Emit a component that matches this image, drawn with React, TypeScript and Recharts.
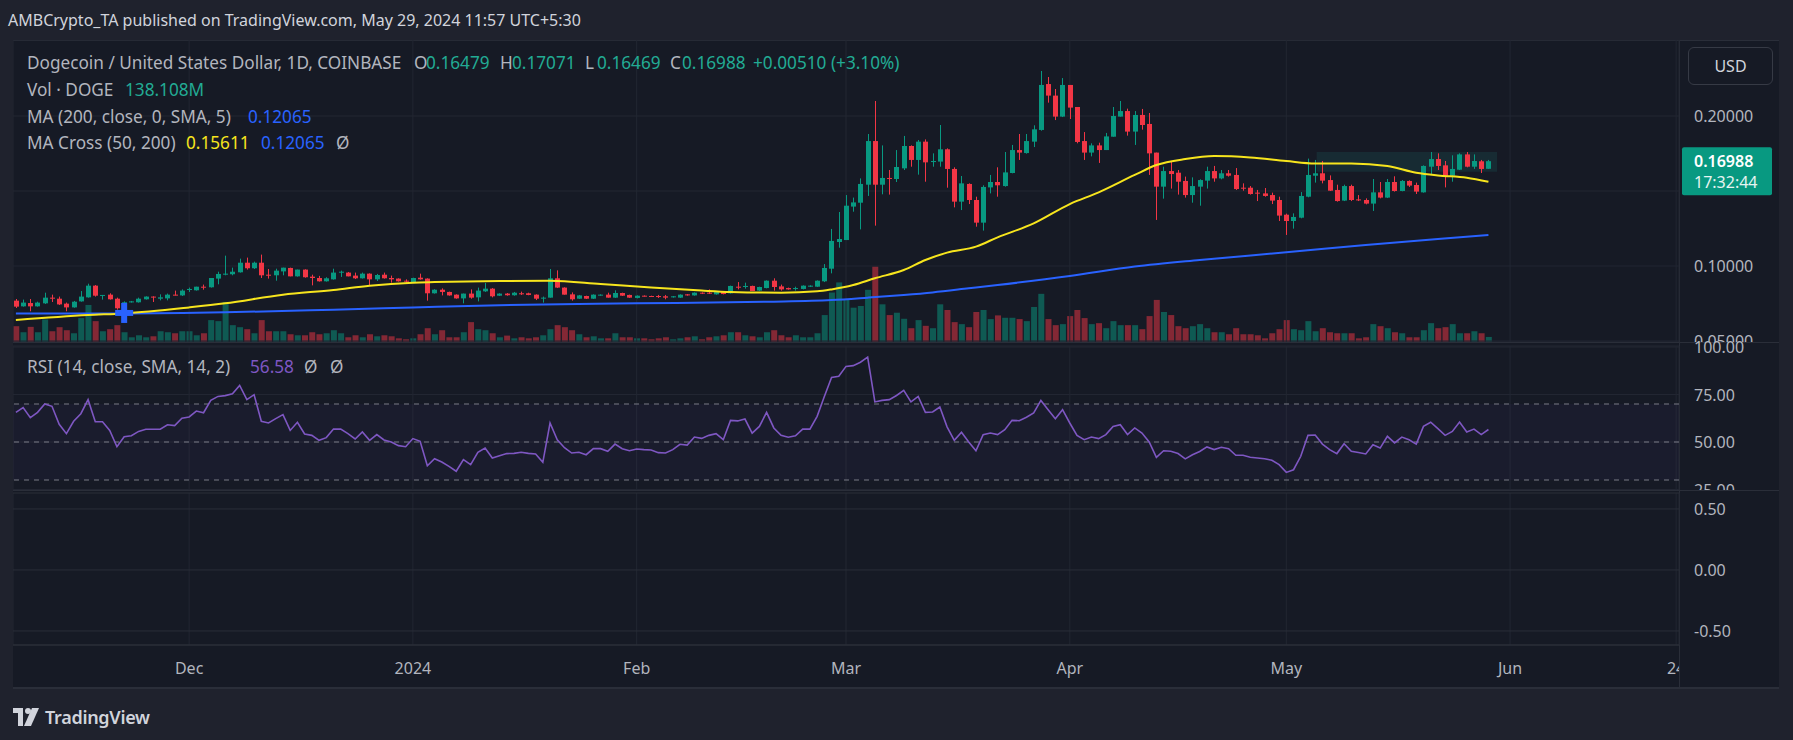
import React from 'react';
import { ComposedChart, Bar, Line, XAxis, YAxis, CartesianGrid, ReferenceLine, ReferenceArea, Scatter, Cell } from 'recharts';

// Daily DOGE/USD candles, index 0 = 7 Nov 2023 ... 204 = 29 May 2024
const openP = [
  0.0769, 0.0731, 0.0753, 0.0731, 0.0751, 0.0789, 0.0782, 0.0749, 0.0724, 0.0764,
  0.0791, 0.0869, 0.0804, 0.0809, 0.0782, 0.0720, 0.0760, 0.0758, 0.0778, 0.0796,
  0.0782, 0.0784, 0.0809, 0.0804, 0.0840, 0.0838, 0.0862, 0.0858, 0.0916, 0.0942,
  0.0945, 0.0958, 0.1022, 0.0985, 0.1022, 0.0942, 0.0938, 0.0964, 0.0987, 0.0931,
  0.0976, 0.0929, 0.0920, 0.0898, 0.0911, 0.0958, 0.0956, 0.0936, 0.0918, 0.0949,
  0.0911, 0.0942, 0.0920, 0.0916, 0.0902, 0.0889, 0.0922, 0.0916, 0.0818, 0.0842,
  0.0827, 0.0809, 0.0784, 0.0816, 0.0791, 0.0831, 0.0849, 0.0802, 0.0816, 0.0805,
  0.0818, 0.0818, 0.0809, 0.0784, 0.0789, 0.0918, 0.0856, 0.0811, 0.0782, 0.0800,
  0.0782, 0.0804, 0.0809, 0.0789, 0.0820, 0.0807, 0.0787, 0.0802, 0.0800, 0.0800,
  0.0798, 0.0791, 0.0789, 0.0811, 0.0804, 0.0822, 0.0822, 0.0811, 0.0831, 0.0818,
  0.0862, 0.0860, 0.0867, 0.0836, 0.0853, 0.0902, 0.0864, 0.0853, 0.0847, 0.0847,
  0.0862, 0.0862, 0.0898, 0.0982, 0.1160, 0.1173, 0.1396, 0.1422, 0.1542, 0.1833,
  0.1542, 0.1587, 0.1580, 0.1651, 0.1800, 0.1707, 0.1829, 0.1693, 0.1696, 0.1778,
  0.1647, 0.1429, 0.1547, 0.1440, 0.1289, 0.1524, 0.1560, 0.1533, 0.1620, 0.1773,
  0.1753, 0.1829, 0.1907, 0.2213, 0.2136, 0.1996, 0.2207, 0.2060, 0.1833, 0.1756,
  0.1804, 0.1773, 0.1862, 0.1996, 0.2033, 0.1896, 0.2007, 0.1947, 0.1756, 0.1529,
  0.1633, 0.1622, 0.1567, 0.1473, 0.1529, 0.1569, 0.1633, 0.1584, 0.1618, 0.1607,
  0.1522, 0.1522, 0.1489, 0.1484, 0.1473, 0.1440, 0.1342, 0.1300, 0.1322, 0.1462,
  0.1602, 0.1618, 0.1573, 0.1507, 0.1436, 0.1533, 0.1444, 0.1440, 0.1416, 0.1491,
  0.1456, 0.1560, 0.1500, 0.1567, 0.1540, 0.1491, 0.1662, 0.1713, 0.1671, 0.1602,
  0.1642, 0.1744, 0.1662, 0.1698, 0.16479,
];
const highP = [
  0.0780, 0.0776, 0.0780, 0.0762, 0.0822, 0.0809, 0.0796, 0.0756, 0.0767, 0.0833,
  0.0882, 0.0873, 0.0807, 0.0818, 0.0789, 0.0764, 0.0767, 0.0789, 0.0798, 0.0798,
  0.0811, 0.0816, 0.0836, 0.0844, 0.0856, 0.0862, 0.0876, 0.0920, 0.0962, 0.1069,
  0.0989, 0.1049, 0.1056, 0.1029, 0.1076, 0.0980, 0.0982, 0.0989, 0.0989, 0.0976,
  0.0978, 0.0942, 0.0934, 0.0925, 0.0982, 0.0969, 0.0960, 0.0956, 0.0956, 0.0951,
  0.0947, 0.0956, 0.0936, 0.0918, 0.0911, 0.0922, 0.0949, 0.0918, 0.0845, 0.0851,
  0.0829, 0.0811, 0.0816, 0.0844, 0.0856, 0.0887, 0.0853, 0.0818, 0.0820, 0.0827,
  0.0829, 0.0822, 0.0811, 0.0796, 0.0980, 0.0971, 0.0858, 0.0824, 0.0807, 0.0802,
  0.0811, 0.0811, 0.0822, 0.0838, 0.0822, 0.0809, 0.0804, 0.0804, 0.0802, 0.0807,
  0.0807, 0.0800, 0.0811, 0.0813, 0.0824, 0.0824, 0.0844, 0.0833, 0.0833, 0.0869,
  0.0893, 0.0889, 0.0869, 0.0862, 0.0904, 0.0918, 0.0876, 0.0856, 0.0862, 0.0871,
  0.0871, 0.0904, 0.1013, 0.1247, 0.1360, 0.1473, 0.1456, 0.1584, 0.1880, 0.2100,
  0.1804, 0.1640, 0.1773, 0.1867, 0.1804, 0.1840, 0.1844, 0.1751, 0.1940, 0.1784,
  0.1658, 0.1600, 0.1551, 0.1462, 0.1538, 0.1607, 0.1658, 0.1760, 0.1807, 0.1880,
  0.1880, 0.1938, 0.2300, 0.2260, 0.2180, 0.2253, 0.2207, 0.2060, 0.1893, 0.1818,
  0.1822, 0.1887, 0.2060, 0.2100, 0.2049, 0.2033, 0.2047, 0.2020, 0.1756, 0.1662,
  0.1696, 0.1640, 0.1596, 0.1591, 0.1578, 0.1662, 0.1667, 0.1640, 0.1640, 0.1653,
  0.1551, 0.1533, 0.1507, 0.1520, 0.1489, 0.1462, 0.1349, 0.1351, 0.1493, 0.1716,
  0.1707, 0.1700, 0.1604, 0.1542, 0.1542, 0.1542, 0.1473, 0.1451, 0.1580, 0.1560,
  0.1580, 0.1598, 0.1573, 0.1571, 0.1556, 0.1671, 0.1760, 0.1751, 0.1700, 0.1738,
  0.1751, 0.1760, 0.1744, 0.1707, 0.17071,
];
const lowP = [
  0.0720, 0.0729, 0.0698, 0.0729, 0.0747, 0.0760, 0.0740, 0.0698, 0.0722, 0.0762,
  0.0789, 0.0796, 0.0776, 0.0776, 0.0709, 0.0709, 0.0756, 0.0756, 0.0776, 0.0760,
  0.0771, 0.0771, 0.0804, 0.0800, 0.0827, 0.0836, 0.0842, 0.0856, 0.0878, 0.0938,
  0.0938, 0.0956, 0.0976, 0.0980, 0.0920, 0.0916, 0.0902, 0.0938, 0.0931, 0.0929,
  0.0922, 0.0871, 0.0896, 0.0896, 0.0909, 0.0927, 0.0931, 0.0913, 0.0916, 0.0873,
  0.0900, 0.0916, 0.0889, 0.0896, 0.0889, 0.0887, 0.0909, 0.0769, 0.0816, 0.0804,
  0.0802, 0.0782, 0.0751, 0.0782, 0.0764, 0.0827, 0.0791, 0.0800, 0.0802, 0.0802,
  0.0807, 0.0805, 0.0773, 0.0756, 0.0789, 0.0853, 0.0809, 0.0769, 0.0780, 0.0780,
  0.0780, 0.0802, 0.0789, 0.0787, 0.0800, 0.0787, 0.0784, 0.0796, 0.0796, 0.0787,
  0.0778, 0.0789, 0.0787, 0.0802, 0.0802, 0.0813, 0.0813, 0.0809, 0.0811, 0.0816,
  0.0844, 0.0849, 0.0833, 0.0833, 0.0851, 0.0836, 0.0836, 0.0842, 0.0836, 0.0844,
  0.0860, 0.0860, 0.0893, 0.0951, 0.1122, 0.1173, 0.1362, 0.1244, 0.1467, 0.1269,
  0.1478, 0.1476, 0.1560, 0.1640, 0.1662, 0.1609, 0.1562, 0.1662, 0.1662, 0.1522,
  0.1391, 0.1373, 0.1413, 0.1262, 0.1236, 0.1484, 0.1462, 0.1529, 0.1618, 0.1707,
  0.1749, 0.1793, 0.1902, 0.2089, 0.1973, 0.1993, 0.1980, 0.1818, 0.1707, 0.1731,
  0.1687, 0.1773, 0.1862, 0.1996, 0.1869, 0.1807, 0.1909, 0.1607, 0.1307, 0.1449,
  0.1516, 0.1476, 0.1456, 0.1422, 0.1402, 0.1516, 0.1562, 0.1578, 0.1596, 0.1507,
  0.1502, 0.1476, 0.1433, 0.1462, 0.1413, 0.1300, 0.1207, 0.1249, 0.1318, 0.1458,
  0.1556, 0.1551, 0.1500, 0.1429, 0.1433, 0.1433, 0.1433, 0.1411, 0.1367, 0.1451,
  0.1453, 0.1496, 0.1498, 0.1527, 0.1480, 0.1489, 0.1609, 0.1640, 0.1524, 0.1562,
  0.1640, 0.1658, 0.1647, 0.1620, 0.16469,
];
const closeP = [
  0.0729, 0.0756, 0.0731, 0.0756, 0.0789, 0.0782, 0.0744, 0.0724, 0.0762, 0.0796,
  0.0869, 0.0802, 0.0807, 0.0778, 0.0718, 0.0758, 0.0764, 0.0782, 0.0796, 0.0791,
  0.0791, 0.0809, 0.0804, 0.0836, 0.0847, 0.0862, 0.0856, 0.0920, 0.0947, 0.0949,
  0.0962, 0.1022, 0.0985, 0.1022, 0.0938, 0.0938, 0.0969, 0.0989, 0.0931, 0.0976,
  0.0925, 0.0920, 0.0898, 0.0918, 0.0956, 0.0962, 0.0931, 0.0918, 0.0949, 0.0911,
  0.0940, 0.0918, 0.0911, 0.0898, 0.0898, 0.0920, 0.0911, 0.0818, 0.0842, 0.0827,
  0.0804, 0.0784, 0.0816, 0.0789, 0.0836, 0.0849, 0.0798, 0.0816, 0.0805, 0.0822,
  0.0815, 0.0807, 0.0782, 0.0789, 0.0918, 0.0856, 0.0809, 0.0778, 0.0804, 0.0782,
  0.0809, 0.0809, 0.0789, 0.0820, 0.0802, 0.0789, 0.0802, 0.0798, 0.0798, 0.0793,
  0.0789, 0.0798, 0.0809, 0.0804, 0.0822, 0.0816, 0.0818, 0.0831, 0.0813, 0.0867,
  0.0856, 0.0867, 0.0833, 0.0860, 0.0902, 0.0860, 0.0844, 0.0844, 0.0853, 0.0869,
  0.0869, 0.0902, 0.0987, 0.1167, 0.1180, 0.1402, 0.1424, 0.1547, 0.1833, 0.1542,
  0.1587, 0.1582, 0.1660, 0.1800, 0.1707, 0.1829, 0.1691, 0.1700, 0.1778, 0.1647,
  0.1429, 0.1551, 0.1440, 0.1289, 0.1527, 0.1560, 0.1538, 0.1624, 0.1773, 0.1756,
  0.1833, 0.1911, 0.2207, 0.2136, 0.1996, 0.2207, 0.2056, 0.1827, 0.1756, 0.1804,
  0.1773, 0.1864, 0.2000, 0.2033, 0.1896, 0.2007, 0.1940, 0.1751, 0.1529, 0.1633,
  0.1613, 0.1562, 0.1473, 0.1533, 0.1573, 0.1633, 0.1584, 0.1618, 0.1602, 0.1513,
  0.1516, 0.1480, 0.1484, 0.1467, 0.1436, 0.1336, 0.1300, 0.1327, 0.1467, 0.1607,
  0.1618, 0.1569, 0.1502, 0.1433, 0.1533, 0.1440, 0.1438, 0.1416, 0.1491, 0.1456,
  0.1560, 0.1500, 0.1567, 0.1536, 0.1496, 0.1667, 0.1713, 0.1667, 0.1596, 0.1647,
  0.1744, 0.1662, 0.1700, 0.1647, 0.16988,
];
// volume, millions of DOGE
const volumeM = [
  432, 267, 414, 267, 616, 294, 405, 322, 239, 653,
  1012, 570, 294, 350, 460, 267, 129, 184, 129, 156,
  294, 267, 239, 294, 294, 184, 239, 598, 570, 1095,
  460, 405, 350, 239, 598, 294, 294, 294, 212, 184,
  184, 267, 212, 239, 322, 239, 129, 184, 129, 212,
  156, 184, 156, 101, 74, 101, 212, 377, 212, 322,
  129, 129, 267, 543, 350, 322, 239, 129, 175, 101,
  129, 101, 129, 184, 350, 460, 405, 322, 212, 129,
  156, 101, 101, 239, 129, 129, 101, 101, 74, 101,
  129, 74, 101, 129, 156, 74, 129, 156, 184, 267,
  267, 184, 156, 129, 267, 322, 184, 129, 184, 129,
  129, 239, 736, 1352, 1628, 1150, 938, 984, 1426, 2061,
  1030, 736, 800, 635, 377, 598, 442, 377, 1030, 874,
  543, 488, 405, 819, 874, 626, 727, 662, 662, 626,
  570, 957, 1316, 626, 460, 488, 708, 874, 653, 488,
  515, 377, 570, 460, 460, 460, 350, 708, 1150, 819,
  736, 432, 377, 432, 488, 377, 267, 267, 212, 377,
  212, 212, 184, 101, 239, 350, 598, 350, 322, 570,
  294, 377, 267, 239, 239, 239, 101, 129, 488, 432,
  377, 267, 239, 129, 129, 322, 515, 377, 405, 488,
  239, 239, 294, 239, 138.108,
];
const rsiV = [
  65.6, 68.1, 62.8, 65.6, 70.0, 68.8, 59.3, 54.4, 60.9, 64.9,
  72.3, 60.7, 60.7, 56.1, 47.5, 52.8, 53.3, 55.6, 56.7, 56.7,
  56.7, 59.1, 58.6, 62.5, 63.2, 66.3, 65.4, 71.9, 74.0, 74.4,
  75.4, 79.8, 72.3, 74.9, 60.9, 60.0, 62.3, 64.4, 56.1, 60.4,
  54.2, 53.5, 50.9, 52.3, 56.8, 56.8, 54.4, 51.6, 55.3, 50.9,
  53.9, 51.1, 50.0, 48.1, 47.5, 51.8, 50.4, 37.5, 41.2, 39.5,
  37.2, 34.6, 40.7, 38.1, 44.6, 46.8, 41.6, 42.8, 43.9, 44.0,
  44.6, 44.0, 43.7, 39.3, 60.0, 51.2, 47.0, 44.2, 44.6, 43.3,
  46.5, 46.5, 45.1, 48.9, 46.5, 45.4, 46.3, 46.0, 45.8, 44.4,
  44.2, 46.0, 48.8, 48.4, 52.6, 51.9, 53.5, 54.4, 51.2, 61.4,
  61.1, 62.1, 54.7, 58.2, 65.6, 57.4, 53.5, 52.5, 53.3, 56.8,
  56.8, 63.5, 74.0, 84.0, 84.6, 89.8, 90.2, 92.0, 94.7, 71.1,
  71.9, 72.3, 74.5, 77.2, 71.1, 74.0, 65.6, 65.8, 68.4, 58.0,
  50.9, 55.1, 50.0, 45.4, 53.9, 54.7, 53.9, 56.5, 61.4, 61.2,
  63.0, 65.3, 71.9, 67.0, 62.3, 67.0, 60.0, 53.5, 51.2, 52.6,
  51.8, 53.9, 58.2, 59.1, 53.9, 57.4, 54.7, 50.0, 41.9, 45.4,
  45.1, 43.9, 41.1, 43.3, 45.0, 47.4, 46.0, 47.2, 46.5, 43.0,
  43.0, 42.0, 41.6, 41.2, 40.4, 38.1, 34.0, 35.4, 42.5, 53.5,
  53.7, 48.9, 46.0, 43.9, 49.1, 45.1, 44.5, 43.7, 48.6, 46.8,
  53.0, 49.5, 52.6, 51.2, 48.9, 58.2, 60.4, 57.0, 53.5, 55.6,
  60.5, 55.3, 56.8, 53.9, 56.58,
];
// moving averages read at sample days
const ma50Idx = [0, 10, 15, 24, 29, 37, 44, 49, 55, 58, 67, 74, 81, 88, 95, 99, 106, 111, 113, 116, 119, 123, 126, 129, 133, 136, 141, 146, 150, 155, 158, 162, 166, 171, 176, 180, 185, 190, 194, 197, 201, 204];
const ma50Val = [0.0640, 0.0673, 0.0684, 0.0724, 0.0751, 0.0809, 0.0840, 0.0869, 0.0889, 0.0893, 0.0900, 0.0902, 0.0880, 0.0856, 0.0836, 0.0827, 0.0822, 0.0831, 0.0844, 0.0873, 0.0918, 0.0973, 0.1040, 0.1089, 0.1129, 0.1191, 0.1284, 0.1413, 0.1491, 0.1607, 0.1673, 0.1713, 0.1733, 0.1724, 0.1700, 0.1684, 0.1684, 0.1667, 0.1622, 0.1604, 0.1589, 0.15611];
const ma200Idx = [0, 15, 29, 44, 55, 67, 86, 104, 113, 118, 123, 127, 132, 136, 146, 155, 164, 176, 187, 197, 204];
const ma200Val = [0.0684, 0.0684, 0.0691, 0.0709, 0.0724, 0.0739, 0.0751, 0.0762, 0.0773, 0.0789, 0.0807, 0.0824, 0.0851, 0.0873, 0.0933, 0.0996, 0.1040, 0.1091, 0.1140, 0.1180, 0.12065];
const crossIdx = 15;
const crossPrice = 0.0687;
const boxStart = 180.2;
const boxEnd = 205.2;
const boxLow = 0.1629;
const boxHigh = 0.1760;

const timeTicks = [24, 55, 86, 115, 146, 176, 207, 230];
const timeLabels = ['Dec', '2024', 'Feb', 'Mar', 'Apr', 'May', 'Jun', '24'];
const priceTicks = [0.05, 0.1, 0.15, 0.2];
const rsiTicks = [25, 50, 75, 100];
const paneTicks = [0.5, 0, -0.5];

const rows = openP.map((o, i) => {
  const a = ma50Idx.indexOf(i);
  const b = ma200Idx.indexOf(i);
  return {
    i,
    o,
    h: highP[i],
    l: lowP[i],
    c: closeP[i],
    range: [lowP[i], highP[i]],
    vol: volumeM[i],
    rsi: rsiV[i],
    ma50: a >= 0 ? ma50Val[a] : null,
    ma200: b >= 0 ? ma200Val[b] : null,
  };
});
const last = rows[rows.length - 1];

const FONT = '"Noto Sans", "DejaVu Sans", sans-serif';
const OUTER_BG = '#1f222d';
const BG = '#161a25';
const GRID = '#222632';
const LINE = '#2a2e39';
const TEXT = '#b2b5be';
const UP = '#089981';
const DOWN = '#f23645';
const W = 1766;
const AXIS_W = 100;
const PLOT_W = W - AXIS_W;
const X_DOMAIN: [number, number] = [-0.4, 230.4];

const Candle = (p: any) => {
  const { x, y, width, height, payload } = p;
  if (!payload || height == null) return null;
  const top = Math.min(y, y + height);
  const hh = Math.abs(height);
  const span = payload.h - payload.l || 1e-9;
  const k = hh / span;
  const up = payload.c >= payload.o;
  const col = up ? UP : DOWN;
  const bTop = top + (payload.h - Math.max(payload.o, payload.c)) * k;
  const bBot = top + (payload.h - Math.min(payload.o, payload.c)) * k;
  const cx = Math.round(x + width / 2) + 0.5;
  return (
    <g>
      <line x1={cx} x2={cx} y1={top} y2={top + hh} stroke={col} strokeWidth={1} />
      <rect x={cx - 2.5} y={bTop} width={5} height={Math.max(1, bBot - bTop)} fill={col} />
    </g>
  );
};

const Plus = (p: any) => {
  const { cx, cy } = p;
  return (
    <g fill="#2962ff">
      <rect x={cx - 9} y={cy - 3} width={18} height={6} />
      <rect x={cx - 3} y={cy - 10} width={6} height={20} />
    </g>
  );
};

const RightTick = (p: any) => {
  const { y, payload, digits, skip } = p;
  if (skip && skip.includes(payload.value)) return null;
  return (
    <text x={PLOT_W + 15} y={y} fill={TEXT} fontSize={16} fontFamily={FONT} dominantBaseline="central">
      {Number(payload.value).toFixed(digits)}
    </text>
  );
};

const TimeTick = (p: any) => {
  const { x, payload } = p;
  const label = timeLabels[timeTicks.indexOf(payload.value)];
  return (
    <g>
      <defs>
        <clipPath id={'tc' + payload.value}>
          <rect x={0} y={0} width={PLOT_W} height={200} />
        </clipPath>
      </defs>
      <text x={x} y={178} fill={TEXT} fontSize={16} fontFamily={FONT} textAnchor="middle" dominantBaseline="central" clipPath={`url(#tc${payload.value})`}>
        {label}
      </text>
    </g>
  );
};

const PriceTag = (p: any) => {
  const vb = p.viewBox || {};
  const x = vb.x + vb.width + 3;
  const y = vb.y;
  return (
    <g fontFamily={FONT}>
      <rect x={x} y={y - 14} width={90} height={48} rx={2} fill={UP} />
      <text x={x + 12} y={y} fill="#ffffff" fontSize={16} fontWeight={600} dominantBaseline="central">
        {last.c.toFixed(5)}
      </text>
      <text x={x + 12} y={y + 21} fill="#e6f4f1" fontSize={16} dominantBaseline="central">
        17:32:44
      </text>
    </g>
  );
};

const Txt = ({ x, y, color, children, size = 17.2 }: any) => (
  <div style={{ position: 'absolute', left: x, top: y - 12, height: 24, lineHeight: '24px', fontSize: size, color, whiteSpace: 'nowrap' }}>{children}</div>
);

export default function App() {
  return (
    <div style={{ position: 'fixed', left: 0, top: 0, width: 1793, height: 740, background: OUTER_BG, overflow: 'hidden', fontFamily: FONT }}>
      <Txt x={8} y={20} color="#d1d4dc" size={16}>AMBCrypto_TA published on TradingView.com, May 29, 2024 11:57 UTC+5:30</Txt>

      <div style={{ position: 'absolute', left: 13, top: 40, width: W, height: 647, background: BG, borderTop: `1px solid ${LINE}` }} />

      {/* pane separators */}
      <div style={{ position: 'absolute', left: 13, top: 342, width: W, height: 1, background: LINE }} />
      <div style={{ position: 'absolute', left: 13, top: 490, width: W, height: 1, background: LINE }} />
      <div style={{ position: 'absolute', left: 13 + PLOT_W, top: 40, width: 1, height: 647, background: LINE }} />
      <div style={{ position: 'absolute', left: 13, top: 687, width: W, height: 2, background: LINE }} />

      {/* volume layer */}
      <div style={{ position: 'absolute', left: 13, top: 40 }}>
        <ComposedChart width={W} height={302} data={rows} margin={{ top: 0, right: AXIS_W, bottom: 0, left: 0 }}>
          <XAxis dataKey="i" type="number" domain={X_DOMAIN} hide allowDataOverflow />
          <YAxis yAxisId="v" hide domain={[0, 8250]} />
          <Bar yAxisId="v" dataKey="vol" barSize={6} isAnimationActive={false}>
            {rows.map((r) => (
              <Cell key={r.i} fill={r.c >= r.o ? 'rgba(8,153,129,0.5)' : 'rgba(242,54,69,0.5)'} />
            ))}
          </Bar>
        </ComposedChart>
      </div>

      {/* price pane */}
      <div style={{ position: 'absolute', left: 13, top: 40 }}>
        <ComposedChart width={W} height={302} data={rows} margin={{ top: 0, right: 0, bottom: 0, left: 0 }}>
          <CartesianGrid stroke={GRID} />
          <XAxis dataKey="i" type="number" domain={X_DOMAIN} ticks={timeTicks} hide allowDataOverflow />
          <YAxis orientation="right" width={AXIS_W} domain={[0.04933, 0.25067]} ticks={priceTicks} interval={0} axisLine={false} tickLine={false} tick={<RightTick digits={5} skip={[0.15]} />} allowDataOverflow />
          <ReferenceArea x1={boxStart} x2={boxEnd} y1={boxLow} y2={boxHigh} fill="rgba(34,171,148,0.25)" stroke="none" ifOverflow="visible" />
          <Line dataKey="ma200" stroke="#2962ff" strokeWidth={2} dot={false} connectNulls type="monotone" isAnimationActive={false} />
          <Line dataKey="ma50" stroke="#f7e51d" strokeWidth={2} dot={false} connectNulls type="monotone" isAnimationActive={false} />
          <Bar dataKey="range" barSize={5} shape={(p: any) => <Candle {...p} />} isAnimationActive={false} />
          <Scatter data={[{ i: crossIdx, p: crossPrice }]} dataKey="p" shape={(p: any) => <Plus {...p} />} isAnimationActive={false} />
          <ReferenceLine y={last.c} stroke="none" label={<PriceTag />} />
        </ComposedChart>
      </div>

      {/* RSI pane */}
      <div style={{ position: 'absolute', left: 13, top: 336 }}>
        <ComposedChart width={W} height={154} data={rows} margin={{ top: 10, right: 0, bottom: 0, left: 0 }}>
          <CartesianGrid stroke={GRID} />
          <XAxis dataKey="i" type="number" domain={X_DOMAIN} ticks={timeTicks} hide allowDataOverflow />
          <YAxis orientation="right" width={AXIS_W} domain={[24.74, 100.53]} ticks={rsiTicks} interval={0} axisLine={false} tickLine={false} tick={<RightTick digits={2} />} allowDataOverflow />
          <ReferenceArea y1={30} y2={70} fill="rgba(126,87,194,0.1)" stroke="none" />
          <ReferenceLine y={70} stroke="#787b86" strokeDasharray="5 5" />
          <ReferenceLine y={50} stroke="#787b86" strokeDasharray="5 5" />
          <ReferenceLine y={30} stroke="#787b86" strokeDasharray="5 5" />
          <Line dataKey="rsi" stroke="#7e57c2" strokeWidth={1.6} dot={false} type="linear" isAnimationActive={false} />
        </ComposedChart>
      </div>

      {/* empty indicator pane + time axis */}
      <div style={{ position: 'absolute', left: 13, top: 490 }}>
        <ComposedChart width={W} height={197} data={rows} margin={{ top: 3, right: 0, bottom: 0, left: 0 }}>
          <CartesianGrid stroke={GRID} horizontal={false} />
          <CartesianGrid stroke={LINE} vertical={false} />
          <XAxis dataKey="i" type="number" domain={X_DOMAIN} ticks={timeTicks} interval={0} height={42} axisLine={{ stroke: LINE }} tickLine={false} tick={<TimeTick />} allowDataOverflow />
          <YAxis orientation="right" width={AXIS_W} domain={[-0.615, 0.631]} ticks={paneTicks} interval={0} axisLine={false} tickLine={false} tick={<RightTick digits={2} />} allowDataOverflow />
          <Line dataKey="blank" stroke="none" dot={false} isAnimationActive={false} />
        </ComposedChart>
      </div>

      {/* currency button */}
      <div style={{ position: 'absolute', left: 1688, top: 47, width: 83, height: 36, border: '1px solid #363a45', borderRadius: 6, color: '#d1d4dc', fontSize: 16, lineHeight: '36px', textAlign: 'center' }}>USD</div>

      {/* legends */}
      <Txt x={27} y={63} color={TEXT}>Dogecoin / United States Dollar, 1D, COINBASE</Txt>
      <Txt x={414} y={63} color={TEXT}>O</Txt>
      <Txt x={426} y={63} color="#22ab94">{last.o.toFixed(5)}</Txt>
      <Txt x={500} y={63} color={TEXT}>H</Txt>
      <Txt x={512} y={63} color="#22ab94">{last.h.toFixed(5)}</Txt>
      <Txt x={585} y={63} color={TEXT}>L</Txt>
      <Txt x={597} y={63} color="#22ab94">{last.l.toFixed(5)}</Txt>
      <Txt x={670} y={63} color={TEXT}>C</Txt>
      <Txt x={682} y={63} color="#22ab94">{last.c.toFixed(5)}</Txt>
      <Txt x={753} y={63} color="#22ab94">+0.00510 (+3.10%)</Txt>

      <Txt x={27} y={90} color={TEXT}>Vol · DOGE</Txt>
      <Txt x={125} y={90} color="#22ab94">138.108M</Txt>

      <Txt x={27} y={117} color={TEXT}>MA (200, close, 0, SMA, 5)</Txt>
      <Txt x={248} y={117} color="#2962ff">0.12065</Txt>

      <Txt x={27} y={143} color={TEXT}>MA Cross (50, 200)</Txt>
      <Txt x={186} y={143} color="#f7e51d">0.15611</Txt>
      <Txt x={261} y={143} color="#2962ff">0.12065</Txt>
      <Txt x={336} y={143} color={TEXT}>Ø</Txt>

      <Txt x={27} y={367} color={TEXT}>RSI (14, close, SMA, 14, 2)</Txt>
      <Txt x={250} y={367} color="#7e57c2">{last.rsi.toFixed(2)}</Txt>
      <Txt x={304} y={367} color={TEXT}>Ø</Txt>
      <Txt x={330} y={367} color={TEXT}>Ø</Txt>

      {/* footer */}
      <div style={{ position: 'absolute', left: 13, top: 705, display: 'flex', alignItems: 'center', gap: 6 }}>
        <svg width={26} height={18} viewBox="0 0 26 18">
          <path d="M0 0 H10 V18 H5 V5 H0 Z" fill="#d1d4dc" />
          <circle cx={15} cy={3} r={3} fill="#d1d4dc" />
          <path d="M19 0 H26 L18 18 H11 Z" fill="#d1d4dc" />
        </svg>
        <span style={{ color: '#d1d4dc', fontSize: 18, fontWeight: 600, letterSpacing: -0.3 }}>TradingView</span>
      </div>
    </div>
  );
}
